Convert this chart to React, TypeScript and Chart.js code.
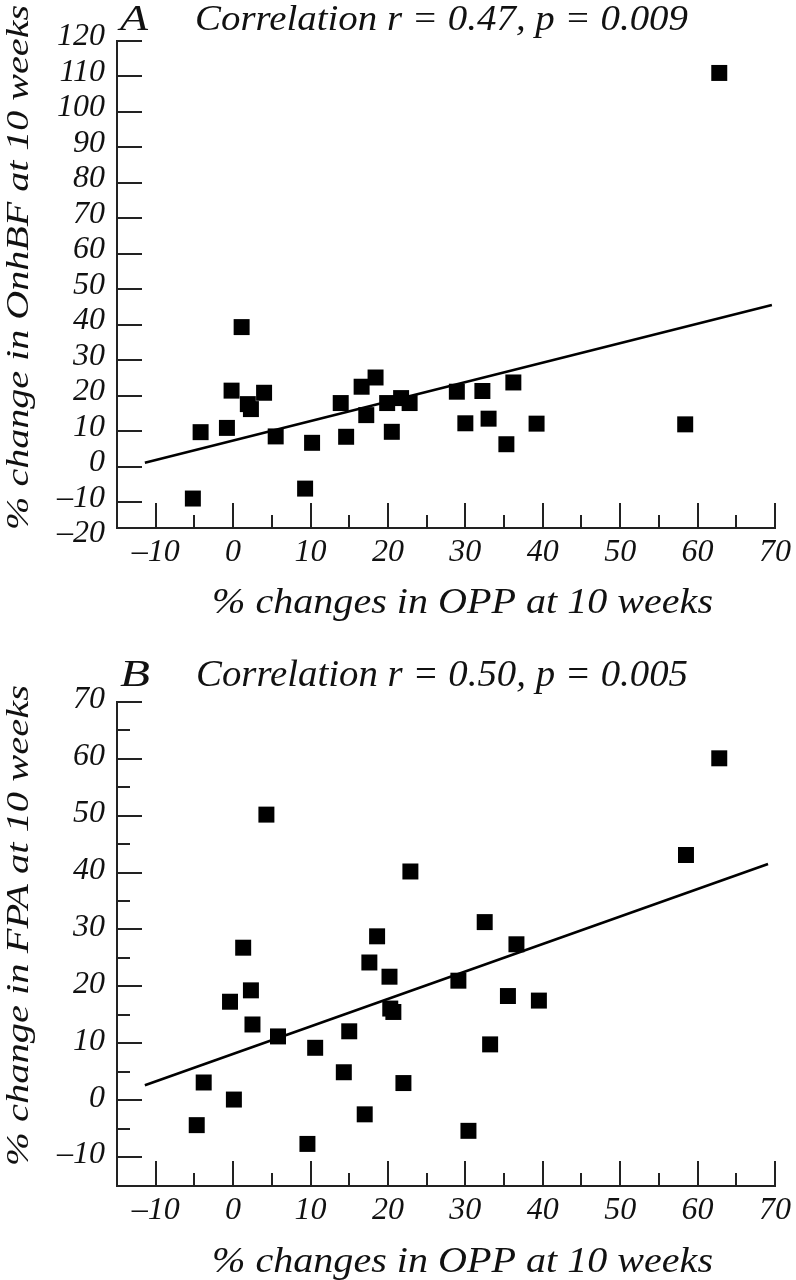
import React, { useEffect, useRef } from 'react';
import { Chart, registerables } from 'chart.js';

Chart.register(...registerables);

// ---------- Data: panel A (OnhBF) ----------
const oppA = [-5.2, -4.2, -0.8, -0.2, 1.1, 1.9, 2.3, 4.0, 5.5, 9.3, 10.2, 13.9, 14.6, 16.6, 17.2, 18.4, 19.9, 20.5, 21.7, 22.8, 28.9, 30.0, 32.2, 33.0, 35.3, 36.2, 39.2, 58.4, 62.8];
const onhbfA = [-8.9, 9.8, 11.0, 21.5, 39.4, 17.7, 16.3, 20.9, 8.6, -6.1, 6.8, 18.0, 8.5, 22.6, 14.6, 25.2, 18.0, 9.9, 19.4, 18.0, 21.2, 12.3, 21.4, 13.6, 6.4, 23.8, 12.2, 12.0, 111.0];
const fitAx = [-11.4, 69.6];
const fitAy = [1.2, 45.6];

// ---------- Data: panel B (FPA) ----------
const oppB = [-4.7, -3.8, -0.4, 0.1, 1.3, 2.3, 2.5, 4.3, 5.8, 9.6, 10.6, 14.3, 15.0, 17.0, 17.6, 18.6, 20.2, 20.3, 20.7, 22.0, 22.9, 29.1, 30.4, 32.5, 33.2, 35.5, 36.6, 39.5, 58.5, 62.8];
const fpaB = [-4.4, 3.1, 17.3, 0.1, 26.8, 19.3, 13.3, 50.2, 11.2, -7.7, 9.2, 4.9, 12.1, -2.5, 24.2, 28.8, 21.7, 16.1, 15.5, 3.0, 40.2, 21.0, -5.4, 31.3, 9.8, 18.3, 27.4, 17.5, 43.1, 60.1];
const fitBx = [-11.4, 69.1];
const fitBy = [2.6, 41.5];

// ---------- Ticks ----------
const xTickLabels = [-10, 0, 10, 20, 30, 40, 50, 60, 70];
const xMinorTicks = [-5, 5, 15, 25, 35, 45, 55, 65];
const yTickLabelsA = [-20, -10, 0, 10, 20, 30, 40, 50, 60, 70, 80, 90, 100, 110, 120];
const yMajorTicksA = [-10, 0, 10, 20, 30, 40, 50, 60, 70, 80, 90, 100, 110, 120];
const yMinorTicksA: number[] = [];
const yTickLabelsB = [-10, 0, 10, 20, 30, 40, 50, 60, 70];
const yMajorTicksB = [-10, 0, 10, 20, 30, 40, 50, 60, 70];
const yMinorTicksB = [-5, 5, 15, 25, 35, 45, 55, 65];

// ---------- Texts ----------
const letterA = 'A';
const corrA = 'Correlation r = 0.47, p = 0.009';
const yTitleA = '% change in OnhBF at 10 weeks';
const letterB = 'B';
const corrB = 'Correlation r = 0.50, p = 0.005';
const yTitleB = '% change in FPA at 10 weeks';
const xTitle = '% changes in OPP at 10 weeks';

const FONT = "'Liberation Serif'";
const INK = '#111';

const fmt = (v: number) => (v < 0 ? '\u2013' + Math.abs(v) : String(v));

type TextItem = { text: string; x: number; y: number; w: number; size: number; rot?: boolean };

const textPlugin = {
  id: 'panelText',
  afterDraw(chart: any, _a: any, opts: any) {
    const ctx = chart.ctx as CanvasRenderingContext2D;
    for (const t of (opts.items || []) as TextItem[]) {
      ctx.save();
      ctx.font = `italic ${t.size}px ${FONT}`;
      ctx.fillStyle = INK;
      ctx.textAlign = 'left';
      ctx.textBaseline = 'alphabetic';
      const mw = ctx.measureText(t.text).width;
      ctx.translate(t.x, t.y);
      if (t.rot) ctx.rotate(-Math.PI / 2);
      ctx.scale(t.w / mw, 1);
      ctx.fillText(t.text, 0, 0);
      ctx.restore();
    }
  },
};

const tickPlugin = {
  id: 'tickMarks',
  afterDraw(chart: any, _a: any, opts: any) {
    const ctx = chart.ctx as CanvasRenderingContext2D;
    const { chartArea, scales } = chart;
    const x = scales.x;
    const y = scales.y;
    ctx.save();
    ctx.strokeStyle = '#222';
    ctx.lineWidth = 2;
    ctx.beginPath();
    for (const v of opts.xMajor) {
      const p = Math.round(x.getPixelForValue(v));
      ctx.moveTo(p, chartArea.bottom);
      ctx.lineTo(p, chartArea.bottom - opts.major);
    }
    for (const v of opts.xMinor) {
      const p = Math.round(x.getPixelForValue(v));
      ctx.moveTo(p, chartArea.bottom);
      ctx.lineTo(p, chartArea.bottom - opts.minor);
    }
    for (const v of opts.yMajor) {
      const p = Math.round(y.getPixelForValue(v));
      ctx.moveTo(chartArea.left, p);
      ctx.lineTo(chartArea.left + opts.major, p);
    }
    for (const v of opts.yMinor) {
      const p = Math.round(y.getPixelForValue(v));
      ctx.moveTo(chartArea.left, p);
      ctx.lineTo(chartArea.left + opts.minor, p);
    }
    ctx.stroke();
    ctx.restore();
  },
};

type PanelCfg = {
  px: number[];
  py: number[];
  fx: number[];
  fy: number[];
  yMin: number;
  yMax: number;
  yLabels: number[];
  yMajor: number[];
  yMinor: number[];
  areaTop: number;
  areaBottom: number;
  yLabelOffset: number;
  texts: TextItem[];
};

const W = 796;
const H = 640;

function Panel({ cfg }: { cfg: PanelCfg }) {
  const ref = useRef<HTMLCanvasElement>(null);
  useEffect(() => {
    let chart: Chart | null = null;
    let cancelled = false;
    const build = () => {
      if (cancelled || !ref.current) return;
      const tickFont = { family: FONT, style: 'italic' as const, size: 32 };
      chart = new Chart(ref.current as HTMLCanvasElement, {
        type: 'scatter',
        data: {
          datasets: [
            {
              type: 'line',
              data: cfg.fx.map((x, i) => ({ x, y: cfg.fy[i] })),
              borderColor: '#000',
              borderWidth: 2.6,
              pointRadius: 0,
              fill: false,
              order: 2,
            } as any,
            {
              type: 'scatter',
              data: cfg.px.map((x, i) => ({ x, y: cfg.py[i] })),
              pointStyle: 'rect',
              pointRadius: 11.3,
              pointHoverRadius: 11.3,
              backgroundColor: '#000',
              borderWidth: 0,
              order: 1,
            } as any,
          ],
        },
        options: {
          animation: false,
          responsive: false,
          devicePixelRatio: 1,
          events: [],
          layout: { padding: { top: cfg.areaTop, right: W - 776, left: 0, bottom: 0 } },
          plugins: {
            legend: { display: false },
            tooltip: { enabled: false },
            tickMarks: { xMajor: xTickLabels, xMinor: xMinorTicks, yMajor: cfg.yMajor, yMinor: cfg.yMinor, major: 25, minor: 13 },
            panelText: { items: cfg.texts },
          } as any,
          scales: {
            x: {
              type: 'linear',
              min: -15,
              max: 70,
              grid: { display: false, drawTicks: false },
              border: { display: true, color: '#222', width: 2 },
              ticks: {
                font: tickFont,
                color: INK,
                padding: 5,
                autoSkip: false,
                maxRotation: 0,
                callback: (v: any) => fmt(Number(v)),
              },
              afterBuildTicks: (s: any) => {
                s.ticks = xTickLabels.map((v) => ({ value: v }));
              },
              afterFit: (s: any) => {
                s.height = H - cfg.areaBottom;
              },
            },
            y: {
              type: 'linear',
              min: cfg.yMin,
              max: cfg.yMax,
              grid: { display: false, drawTicks: false },
              border: { display: true, color: '#222', width: 2 },
              ticks: {
                font: tickFont,
                color: INK,
                padding: 12,
                autoSkip: false,
                labelOffset: cfg.yLabelOffset,
                callback: (v: any) => fmt(Number(v)),
              },
              afterBuildTicks: (s: any) => {
                s.ticks = cfg.yLabels.map((v) => ({ value: v }));
              },
              afterFit: (s: any) => {
                s.width = 117;
              },
            },
          } as any,
        },
        plugins: [tickPlugin as any, textPlugin as any],
      });
    };
    const fonts: any = (document as any).fonts;
    if (fonts && fonts.load) {
      Promise.all([
        fonts.load(`italic 32px ${FONT}`),
        fonts.load(`32px ${FONT}`),
      ])
        .catch(() => null)
        .then(build);
    } else {
      build();
    }
    return () => {
      cancelled = true;
      if (chart) chart.destroy();
    };
  }, [cfg]);
  return <canvas ref={ref} width={W} height={H} style={{ display: 'block', width: W, height: H }} />;
}

const panelA: PanelCfg = {
  px: oppA,
  py: onhbfA,
  fx: fitAx,
  fy: fitAy,
  yMin: -17.2,
  yMax: 120,
  yLabels: yTickLabelsA,
  yMajor: yMajorTicksA,
  yMinor: yMinorTicksA,
  areaTop: 41,
  areaBottom: 528,
  yLabelOffset: -4,
  texts: [
    { text: letterA, x: 120, y: 30, w: 28, size: 36 },
    { text: corrA, x: 195, y: 30, w: 493, size: 36 },
    { text: xTitle, x: 212, y: 613, w: 501, size: 36 },
    { text: yTitleA, x: 28, y: 530, w: 525, size: 32, rot: true },
  ],
};

const panelB: PanelCfg = {
  px: oppB,
  py: fpaB,
  fx: fitBx,
  fy: fitBy,
  yMin: -15.1,
  yMax: 70,
  yLabels: yTickLabelsB,
  yMajor: yMajorTicksB,
  yMinor: yMinorTicksB,
  areaTop: 62,
  areaBottom: 546,
  yLabelOffset: -2,
  texts: [
    { text: letterB, x: 120, y: 46, w: 30, size: 37 },
    { text: corrB, x: 196, y: 46, w: 492, size: 37 },
    { text: xTitle, x: 212, y: 632, w: 501, size: 36 },
    { text: yTitleB, x: 28, y: 526, w: 481, size: 32, rot: true },
  ],
};

export default function App() {
  return (
    <div style={{ position: 'absolute', left: 0, top: 0, width: W, height: 1280, background: '#fff' }}>
      <Panel cfg={panelA} />
      <Panel cfg={panelB} />
    </div>
  );
}
